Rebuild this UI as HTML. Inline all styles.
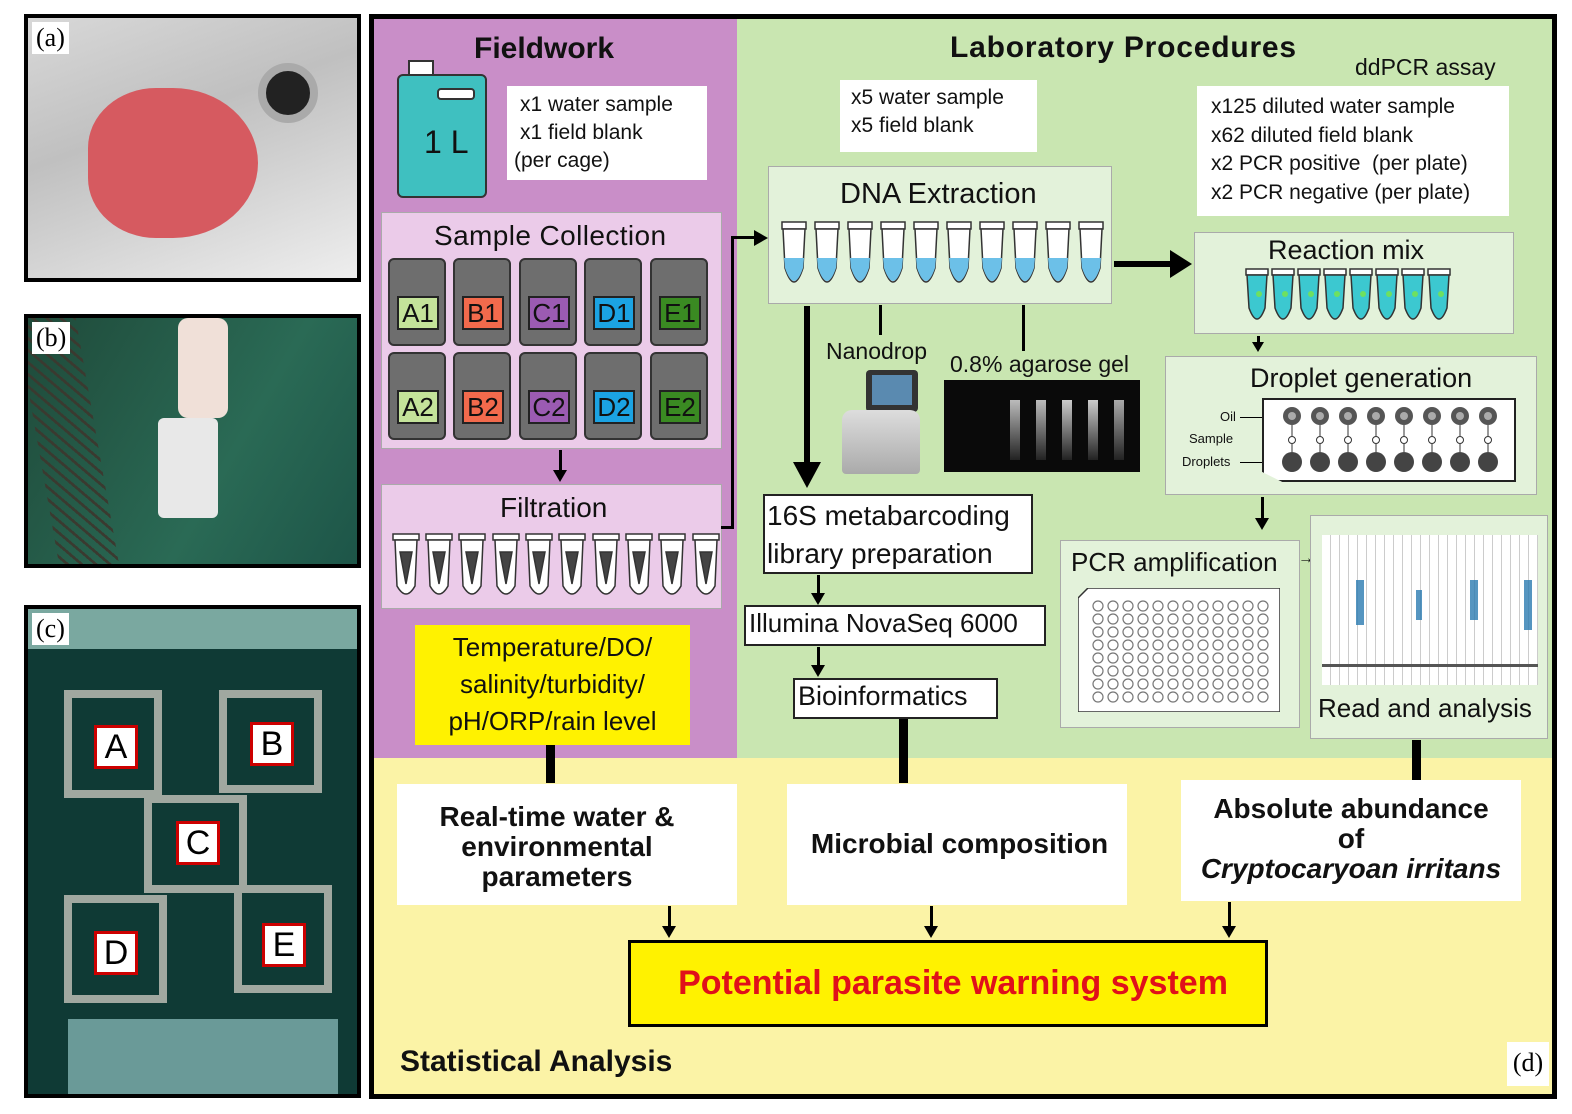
<!DOCTYPE html>
<html><head><meta charset="utf-8"><style>
*{margin:0;padding:0;box-sizing:border-box}
body{width:1572px;height:1114px;background:#fff;position:relative;font-family:"Liberation Sans",sans-serif;overflow:hidden}
.a{position:absolute}
.photo{position:absolute;border:4px solid #000;overflow:hidden}
.lbl{position:absolute;left:4px;top:4px;background:#fff;font-family:"Liberation Serif",serif;font-size:26px;padding:0 4px;line-height:32px}
.wb{position:absolute;background:#fff}
.t{position:absolute;white-space:nowrap;color:#111}
.box{position:absolute;border:1px solid #aaa}
.cell{position:absolute;width:58px;height:88px;background:#6e6e6e;border:2px solid #333;border-radius:6px}
.cell span{position:absolute;left:7px;top:36px;width:42px;height:34px;border:2px solid #222;font-size:26px;text-align:center;line-height:30px;color:#111}
.vl{position:absolute;background:#000}
.arr{position:absolute;width:0;height:0;border-left:7px solid transparent;border-right:7px solid transparent;border-top:12px solid #000}
.bold{font-weight:bold}
</style></head><body>

<!-- photos -->
<div class="photo" style="left:24px;top:14px;width:337px;height:268px;background:linear-gradient(160deg,#d8d8d8 0%,#c0c0c0 40%,#eee 100%)">
  <div class="a" style="left:60px;top:70px;width:170px;height:150px;background:#d65a60;border-radius:40% 50% 50% 40%"></div>
  <div class="a" style="left:230px;top:45px;width:60px;height:60px;border-radius:50%;background:#222;border:8px solid #aaa"></div>
  <div class="lbl">(a)</div>
</div>
<div class="photo" style="left:24px;top:314px;width:337px;height:254px;background:linear-gradient(120deg,#1f4a3a,#2a6a55 60%,#1d5548)">
  <div class="a" style="left:10px;top:0;width:60px;height:254px;background:repeating-linear-gradient(45deg,#3a3a30 0 3px,transparent 3px 10px);transform:skewX(10deg)"></div>
  <div class="a" style="left:130px;top:100px;width:60px;height:100px;background:#e8e8e8;border-radius:6px"></div>
  <div class="a" style="left:150px;top:0;width:50px;height:100px;background:#f0e0d8;border-radius:10px"></div>
  <div class="lbl">(b)</div>
</div>
<div class="photo" style="left:24px;top:605px;width:337px;height:493px;background:#0f3a35">
  <div class="a" style="left:0;top:0;width:337px;height:40px;background:#7aa8a0"></div>
  <div class="a" style="left:40px;top:410px;width:270px;height:80px;background:#6a9a98"></div>
  <svg class="a" style="left:0;top:0" width="337" height="493">
   <g fill="none" stroke="#a0a8a0" stroke-width="8">
    <rect x="40" y="85" width="90" height="100"/><rect x="195" y="85" width="95" height="95"/>
    <rect x="120" y="190" width="95" height="90"/><rect x="40" y="290" width="95" height="100"/><rect x="210" y="280" width="90" height="100"/>
   </g></svg>
  <div class="a" style="left:66px;top:116px;width:44px;height:44px;background:#fff;border:3px solid #c00;font-size:34px;text-align:center;line-height:38px">A</div>
  <div class="a" style="left:222px;top:113px;width:44px;height:44px;background:#fff;border:3px solid #c00;font-size:34px;text-align:center;line-height:38px">B</div>
  <div class="a" style="left:148px;top:212px;width:44px;height:44px;background:#fff;border:3px solid #c00;font-size:34px;text-align:center;line-height:38px">C</div>
  <div class="a" style="left:66px;top:322px;width:44px;height:44px;background:#fff;border:3px solid #c00;font-size:34px;text-align:center;line-height:38px">D</div>
  <div class="a" style="left:234px;top:314px;width:44px;height:44px;background:#fff;border:3px solid #c00;font-size:34px;text-align:center;line-height:38px">E</div>
  <div class="lbl">(c)</div>
</div>

<!-- main panel -->
<div class="a" style="left:369px;top:14px;width:1188px;height:1085px;border:5px solid #000;background:#fbf3a6"></div>
<div class="a" style="left:374px;top:19px;width:363px;height:739px;background:#c98ec8"></div>
<div class="a" style="left:737px;top:19px;width:815px;height:739px;background:#c9e6b1"></div>

<div class="t bold" style="left:474px;top:32px;font-size:30px">Fieldwork</div>
<div class="t bold" style="left:950px;top:31px;font-size:30px;letter-spacing:0.8px">Laboratory Procedures</div>
<div class="t" style="left:1355px;top:54px;font-size:23px">ddPCR assay</div>

<!-- jug -->
<div class="a" style="left:408px;top:60px;width:26px;height:16px;background:#fff;border:2px solid #333"></div>
<div class="a" style="left:397px;top:74px;width:90px;height:124px;background:#3fc0c0;border:2px solid #333;border-radius:6px"></div>
<div class="a" style="left:437px;top:88px;width:38px;height:12px;background:#fff;border:2px solid #333;border-radius:4px"></div>
<div class="t" style="left:424px;top:124px;font-size:32px">1 L</div>
<div class="wb" style="left:507px;top:86px;width:200px;height:94px"></div>
<div class="t" style="left:520px;top:91px;font-size:21px;line-height:28px">x1 water sample<br>x1 field blank<br><span style="margin-left:-6px">(per cage)</span></div>

<!-- sample collection -->
<div class="box" style="left:381px;top:212px;width:341px;height:237px;background:#ebcbe9"></div>
<div class="t" style="left:434px;top:220px;font-size:28px;letter-spacing:0.4px">Sample Collection</div>
<div class="cell" style="left:388px;top:258px"><span style="background:#c4e39a">A1</span></div>
<div class="cell" style="left:453px;top:258px"><span style="background:#f26a4c">B1</span></div>
<div class="cell" style="left:519px;top:258px"><span style="background:#9b5bb2">C1</span></div>
<div class="cell" style="left:584px;top:258px"><span style="background:#1ba3e3">D1</span></div>
<div class="cell" style="left:650px;top:258px"><span style="background:#3a8a22">E1</span></div>
<div class="cell" style="left:388px;top:352px"><span style="background:#c4e39a">A2</span></div>
<div class="cell" style="left:453px;top:352px"><span style="background:#f26a4c">B2</span></div>
<div class="cell" style="left:519px;top:352px"><span style="background:#9b5bb2">C2</span></div>
<div class="cell" style="left:584px;top:352px"><span style="background:#1ba3e3">D2</span></div>
<div class="cell" style="left:650px;top:352px"><span style="background:#3a8a22">E2</span></div>
<div class="vl" style="left:559px;top:450px;width:3px;height:22px"></div><div class="arr" style="left:553px;top:470px"></div>

<!-- filtration -->
<div class="box" style="left:381px;top:484px;width:341px;height:125px;background:#ebcbe9"></div>
<div class="t" style="left:500px;top:492px;font-size:28px">Filtration</div>
<svg class="a" style="left:381px;top:530px" width="341" height="76">
 <g stroke="#333" stroke-width="1.5" fill="#fff">
  <g id="tb"><rect x="12" y="4" width="26" height="6"/><path d="M14 10 L36 10 L34 56 Q25 72 16 56 Z"/><path d="M19 22 L31 22 L25 54 Z" fill="#444"/></g>
  <use href="#tb" x="33"/><use href="#tb" x="66"/><use href="#tb" x="100"/><use href="#tb" x="133"/><use href="#tb" x="166"/><use href="#tb" x="200"/><use href="#tb" x="233"/><use href="#tb" x="266"/><use href="#tb" x="300"/>
 </g></svg>

<!-- connector filtration -> DNA -->
<div class="vl" style="left:721px;top:526px;width:12px;height:3px"></div>
<div class="vl" style="left:731px;top:236px;width:3px;height:293px"></div>
<div class="vl" style="left:731px;top:236px;width:26px;height:3px"></div>
<div class="a" style="left:754px;top:230px;width:0;height:0;border-top:8px solid transparent;border-bottom:8px solid transparent;border-left:14px solid #000"></div>

<!-- yellow env box -->
<div class="a" style="left:415px;top:625px;width:275px;height:120px;background:#fff200"></div>
<div class="t" style="left:415px;top:629px;width:275px;text-align:center;font-size:26px;line-height:37px">Temperature/DO/<br>salinity/turbidity/<br>pH/ORP/rain level</div>

<!-- lab -->
<div class="wb" style="left:840px;top:80px;width:197px;height:72px"></div>
<div class="t" style="left:851px;top:84px;font-size:21px;line-height:28px">x5 water sample<br>x5 field blank</div>
<div class="wb" style="left:1197px;top:86px;width:312px;height:130px"></div>
<div class="t" style="left:1211px;top:93px;font-size:21px;line-height:28.5px">x125 diluted water sample<br>x62 diluted field blank<br>x2 PCR positive&nbsp; (per plate)<br>x2 PCR negative (per plate)</div>

<div class="box" style="left:768px;top:166px;width:344px;height:138px;background:#e3f2da"></div>
<div class="t" style="left:840px;top:178px;font-size:29px">DNA Extraction</div>
<svg class="a" style="left:772px;top:218px" width="340" height="80">
 <g stroke="#333" stroke-width="1.5">
  <g id="dt"><rect x="10" y="4" width="24" height="7" fill="#fff"/><path d="M11 11 L33 11 L31 50 Q22 78 13 50 Z" fill="#fff"/><path d="M12 40 L32 40 L31 50 Q22 76 13 50 Z" fill="#6cc0e8" stroke="none"/></g>
  <use href="#dt" x="33"/><use href="#dt" x="66"/><use href="#dt" x="99"/><use href="#dt" x="132"/><use href="#dt" x="165"/><use href="#dt" x="198"/><use href="#dt" x="231"/><use href="#dt" x="264"/><use href="#dt" x="297"/>
 </g></svg>

<div class="vl" style="left:1114px;top:261px;width:60px;height:6px"></div>
<div class="a" style="left:1170px;top:250px;width:0;height:0;border-top:14px solid transparent;border-bottom:14px solid transparent;border-left:22px solid #000"></div>

<div class="box" style="left:1194px;top:232px;width:320px;height:102px;background:#e3f2da"></div>
<div class="t" style="left:1268px;top:235px;font-size:27px">Reaction mix</div>
<svg class="a" style="left:1244px;top:266px" width="220" height="66">
 <g stroke="#333" stroke-width="1.5">
  <g id="rt"><rect x="2" y="3" width="22" height="6" fill="#fff"/><path d="M3 9 L23 9 L21 42 Q13 64 5 42 Z" fill="#3cc8d0"/><circle cx="15" cy="28" r="3" fill="#6ee060" stroke="none"/></g>
  <use href="#rt" x="26"/><use href="#rt" x="52"/><use href="#rt" x="78"/><use href="#rt" x="104"/><use href="#rt" x="130"/><use href="#rt" x="156"/><use href="#rt" x="182"/>
 </g></svg>
<div class="vl" style="left:1257px;top:336px;width:3px;height:8px"></div><div class="arr" style="left:1252px;top:342px;border-top-width:10px;border-left-width:6px;border-right-width:6px"></div>

<div class="box" style="left:1165px;top:356px;width:372px;height:139px;background:#e3f2da"></div>
<div class="t" style="left:1250px;top:363px;font-size:27px">Droplet generation</div>
<div class="a" style="left:1262px;top:398px;width:254px;height:84px;background:#fff;border:2px solid #222;clip-path:polygon(0 0,100% 0,100% 100%,8% 100%,0 88%)"></div>
<svg class="a" style="left:1262px;top:398px" width="254" height="84">
 <g id="dr"><circle cx="30" cy="18" r="9" fill="#555"/><circle cx="30" cy="18" r="4" fill="#aaa"/><circle cx="30" cy="42" r="3.5" fill="#fff" stroke="#333"/><line x1="30" y1="27" x2="30" y2="38" stroke="#333"/><line x1="30" y1="46" x2="30" y2="54" stroke="#333"/><circle cx="30" cy="64" r="10" fill="#444"/></g>
 <use href="#dr" x="28"/><use href="#dr" x="56"/><use href="#dr" x="84"/><use href="#dr" x="112"/><use href="#dr" x="140"/><use href="#dr" x="168"/><use href="#dr" x="196"/>
</svg>
<div class="t" style="left:1220px;top:409px;font-size:13px">Oil</div>
<div class="t" style="left:1189px;top:431px;font-size:13px">Sample</div>
<div class="t" style="left:1182px;top:454px;font-size:13px">Droplets</div>
<div class="vl" style="left:1240px;top:417px;width:22px;height:1px"></div>
<div class="vl" style="left:1240px;top:462px;width:22px;height:1px"></div>
<div class="vl" style="left:1261px;top:497px;width:3px;height:22px"></div><div class="arr" style="left:1255px;top:518px"></div>

<div class="box" style="left:1060px;top:540px;width:240px;height:188px;background:#e3f2da"></div>
<div class="t" style="left:1071px;top:547px;font-size:26px">PCR amplification</div>
<div class="t" style="left:1298px;top:550px;font-size:16px">→</div>
<svg class="a" style="left:1078px;top:588px" width="202" height="124">
 <path d="M10 0 H202 V124 H0 V10 Z" fill="#fff" stroke="#333" stroke-width="1.5"/>
 <g fill="none" stroke="#777" stroke-width="1.2">
  <g id="row"><circle cx="20" cy="18" r="5"/><circle cx="35" cy="18" r="5"/><circle cx="50" cy="18" r="5"/><circle cx="65" cy="18" r="5"/><circle cx="80" cy="18" r="5"/><circle cx="95" cy="18" r="5"/><circle cx="110" cy="18" r="5"/><circle cx="125" cy="18" r="5"/><circle cx="140" cy="18" r="5"/><circle cx="155" cy="18" r="5"/><circle cx="170" cy="18" r="5"/><circle cx="185" cy="18" r="5"/></g>
  <use href="#row" y="13"/><use href="#row" y="26"/><use href="#row" y="39"/><use href="#row" y="52"/><use href="#row" y="65"/><use href="#row" y="78"/><use href="#row" y="91"/>
 </g></svg>

<div class="box" style="left:1310px;top:515px;width:238px;height:224px;background:#e3f2da"></div>
<div class="a" style="left:1322px;top:535px;width:216px;height:150px;background:repeating-linear-gradient(90deg,#fff 0 8px,#ccc 8px 9px)"></div>
<div class="a" style="left:1322px;top:664px;width:216px;height:3px;background:#555"></div>
<div class="a" style="left:1356px;top:580px;width:8px;height:45px;background:#2a7ab0;opacity:.8"></div>
<div class="a" style="left:1416px;top:590px;width:6px;height:30px;background:#2a7ab0;opacity:.8"></div>
<div class="a" style="left:1470px;top:580px;width:8px;height:40px;background:#2a7ab0;opacity:.8"></div>
<div class="a" style="left:1524px;top:580px;width:8px;height:50px;background:#2a7ab0;opacity:.8"></div>
<div class="t" style="left:1318px;top:693px;font-size:26px">Read and analysis</div>

<!-- nanodrop / gel -->
<div class="vl" style="left:879px;top:305px;width:3px;height:30px"></div>
<div class="vl" style="left:1022px;top:305px;width:3px;height:46px"></div>
<div class="t" style="left:826px;top:338px;font-size:23px">Nanodrop</div>
<div class="t" style="left:950px;top:351px;font-size:23px">0.8% agarose gel</div>
<div class="a" style="left:866px;top:370px;width:52px;height:42px;background:#333;border-radius:4px"></div>
<div class="a" style="left:872px;top:375px;width:40px;height:30px;background:#5a8ab0"></div>
<div class="a" style="left:842px;top:410px;width:78px;height:64px;background:linear-gradient(#ddd,#aaa);border-radius:10px 10px 4px 4px"></div>
<div class="a" style="left:944px;top:380px;width:196px;height:92px;background:#0a0a0a"></div>
<div class="a" style="left:1010px;top:400px;width:10px;height:60px;background:linear-gradient(#bbb,#222)"></div>
<div class="a" style="left:1036px;top:400px;width:10px;height:60px;background:linear-gradient(#bbb,#222)"></div>
<div class="a" style="left:1062px;top:400px;width:10px;height:60px;background:linear-gradient(#ccc,#222)"></div>
<div class="a" style="left:1088px;top:400px;width:10px;height:60px;background:linear-gradient(#ccc,#222)"></div>
<div class="a" style="left:1114px;top:400px;width:10px;height:60px;background:linear-gradient(#aaa,#222)"></div>

<!-- thick arrow down -->
<div class="vl" style="left:804px;top:306px;width:6px;height:162px"></div>
<div class="a" style="left:793px;top:462px;width:0;height:0;border-left:14px solid transparent;border-right:14px solid transparent;border-top:26px solid #000"></div>

<div class="wb" style="left:763px;top:494px;width:270px;height:80px;border:2px solid #222"></div>
<div class="t" style="left:767px;top:497px;font-size:28px;line-height:38px">16S metabarcoding<br>library preparation</div>
<div class="vl" style="left:817px;top:575px;width:3px;height:20px"></div><div class="arr" style="left:811px;top:593px"></div>
<div class="wb" style="left:744px;top:605px;width:302px;height:41px;border:2px solid #222"></div>
<div class="t" style="left:749px;top:608px;font-size:26px">Illumina NovaSeq 6000</div>
<div class="vl" style="left:817px;top:647px;width:3px;height:20px"></div><div class="arr" style="left:811px;top:665px"></div>
<div class="wb" style="left:793px;top:678px;width:205px;height:41px;border:2px solid #222"></div>
<div class="t" style="left:798px;top:681px;font-size:27px">Bioinformatics</div>

<!-- bottom -->
<div class="vl" style="left:546px;top:745px;width:9px;height:38px"></div>
<div class="vl" style="left:899px;top:719px;width:9px;height:64px"></div>
<div class="vl" style="left:1412px;top:740px;width:9px;height:40px"></div>
<div class="wb" style="left:397px;top:784px;width:340px;height:121px"></div>
<div class="t bold" style="left:397px;top:802px;width:320px;text-align:center;font-size:28px;line-height:30px">Real-time water &amp;<br>environmental<br>parameters</div>
<div class="wb" style="left:787px;top:784px;width:340px;height:121px"></div>
<div class="t bold" style="left:787px;top:828px;width:345px;text-align:center;font-size:28px">Microbial composition</div>
<div class="wb" style="left:1181px;top:780px;width:340px;height:121px"></div>
<div class="t bold" style="left:1181px;top:794px;width:340px;text-align:center;font-size:28px;line-height:30px">Absolute abundance<br>of<br><i>Cryptocaryoan irritans</i></div>
<div class="vl" style="left:668px;top:906px;width:3px;height:22px"></div><div class="arr" style="left:662px;top:926px"></div>
<div class="vl" style="left:930px;top:906px;width:3px;height:22px"></div><div class="arr" style="left:924px;top:926px"></div>
<div class="vl" style="left:1228px;top:902px;width:3px;height:26px"></div><div class="arr" style="left:1222px;top:926px"></div>
<div class="a" style="left:628px;top:940px;width:640px;height:87px;background:#fff200;border:3px solid #000"></div>
<div class="t bold" style="left:628px;top:964px;width:650px;text-align:center;font-size:34px;color:#e0101a">Potential parasite warning system</div>
<div class="t bold" style="left:400px;top:1045px;font-size:30px">Statistical Analysis</div>
<div class="a" style="left:1507px;top:1042px;width:42px;height:44px;background:#fff;font-family:'Liberation Serif',serif;font-size:26px;text-align:center;line-height:42px">(d)</div>
</body></html>
